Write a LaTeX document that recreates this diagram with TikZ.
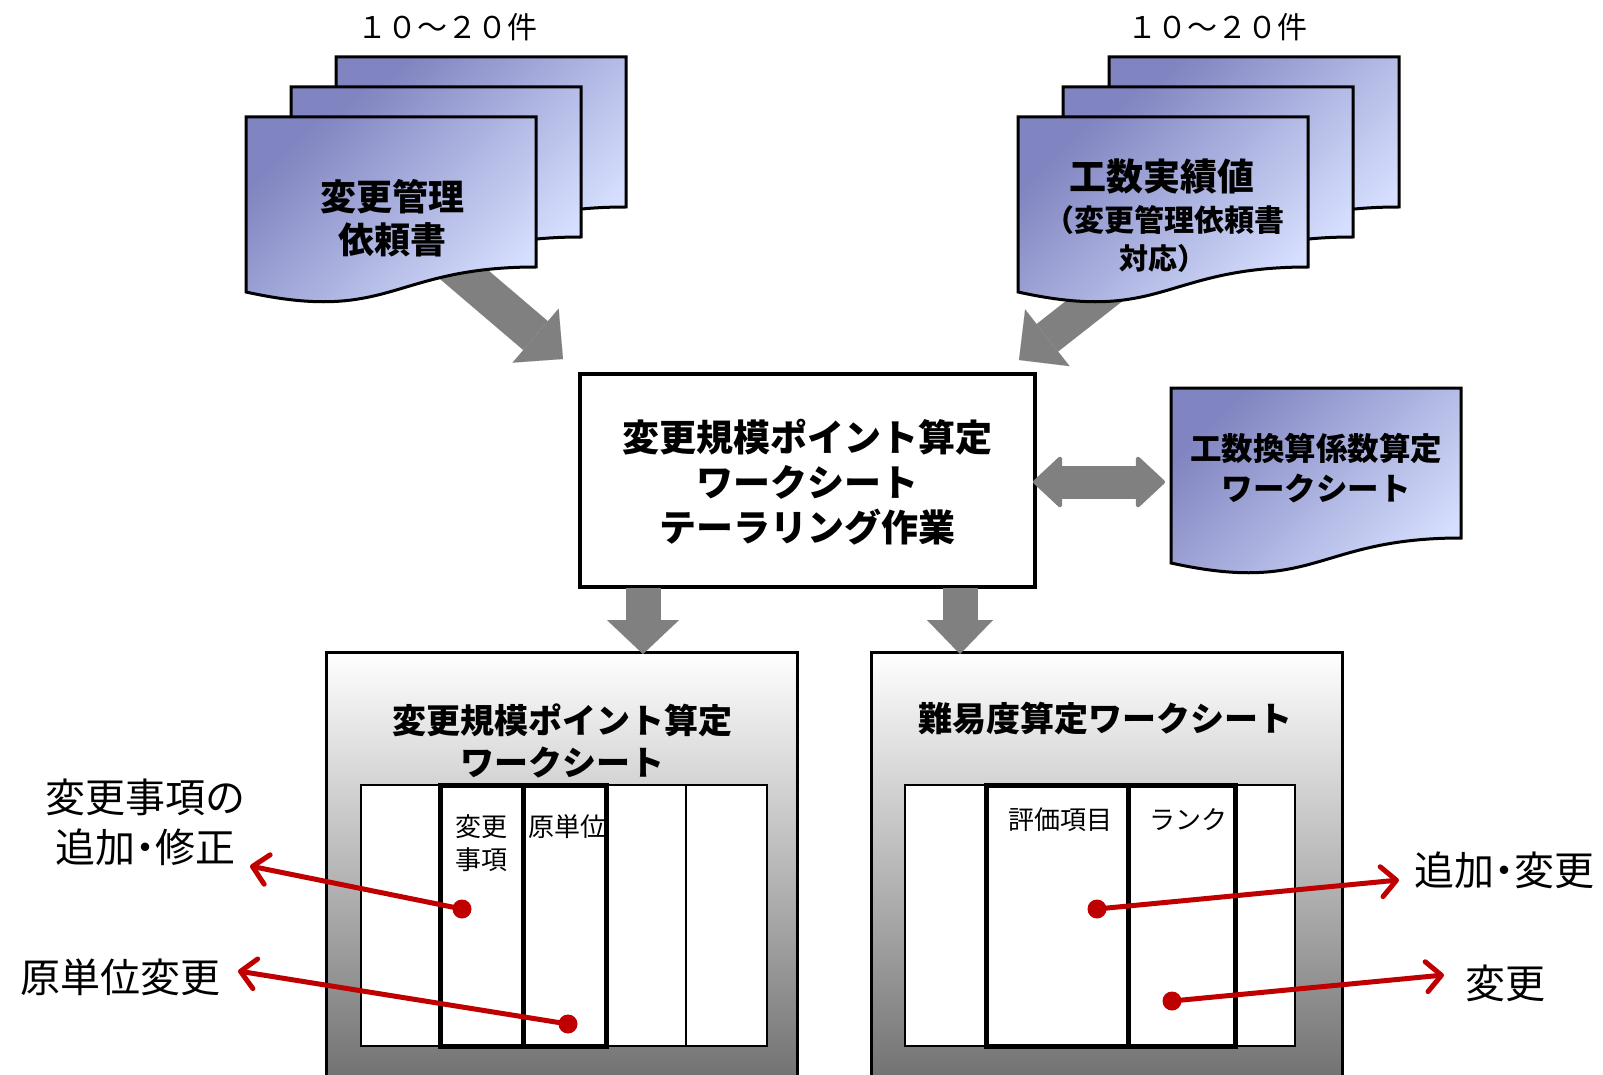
\documentclass[tikz,border=0pt]{standalone}
\usepackage{fontspec}
\setmainfont{Noto Sans CJK JP}
\usetikzlibrary{arrows.meta,calc}
\definecolor{docdark}{HTML}{8084C0}
\definecolor{docmid}{HTML}{C6CEF5}
\definecolor{doclight}{HTML}{D6DFFE}
\definecolor{redc}{HTML}{C00000}
\definecolor{grayc}{HTML}{808080}
\definecolor{boxbot}{HTML}{727272}
\definecolor{boxmid}{HTML}{C4C4C4}
\tikzset{
  docshape/.style={draw=black, line width=3pt, left color=docdark, middle color=docmid, right color=doclight, shading angle=45},
  fbig/.style={font=\fontsize{36}{43}\selectfont\bfseries, align=center, inner sep=0pt},
  fcnt/.style={font=\fontsize{30}{36}\selectfont, inner sep=0pt},
  ftitle/.style={font=\fontsize{34}{42}\selectfont\bfseries, align=center, inner sep=0pt},
  fcell/.style={font=\fontsize{26}{33}\selectfont, align=left, inner sep=0pt},
  flabel/.style={font=\fontsize{40}{50}\selectfont, align=center, inner sep=0pt},
  fplabel/.style={font=\fontsize{40}{50}\selectfont\addfontfeatures{RawFeature=+palt}, align=center, inner sep=0pt},
  grayarrow/.style={draw=grayc, line width=#1},
  reddot/.style={circle, fill=redc, minimum size=19pt, inner sep=0pt},
  redarrow/.style={draw=redc, line width=5pt, -{Straight Barb[length=15pt,width=30pt,round]}},
  outerbox/.style={draw=black, line width=3pt, top color=white, middle color=boxmid, bottom color=boxbot},
}
\newcommand\mydocpath[2]{\path[docshape, shift={(#1,#2)}] (0,0) -- (290,0) -- (290,150) .. controls (145,150) and (145,207) .. (0,175) -- cycle;}
\begin{document}
\begin{tikzpicture}[x=1pt,y=-1pt]
\useasboundingbox (0,0) rectangle (1603,1075);
\clip (0,0) rectangle (1603,1075);
\fill[white] (0,0) rectangle (1603,1075);

% gray arrows from documents (behind documents)
\coordinate (la0) at (434,249);
\coordinate (la1) at (563,359);
\coordinate (ra0) at (1153,255);
\coordinate (ra1) at (1019,360);
\draw[grayarrow=38pt, -{Triangle[length=36pt,width=71pt,line width=0.01pt]}] (la0) -- (la1);
\draw[grayarrow=35pt, -{Triangle[length=36pt,width=72pt,line width=0.01pt]}] (ra0) -- (ra1);

% left document stack
\mydocpath{336}{57}
\mydocpath{291}{87}
\mydocpath{246}{117}
\node[fbig] (ldoc) at (392,218) {変更管理\\依頼書};
\node[fcnt] (lcnt) at (447,27) {１０～２０件};

% right document stack
\mydocpath{1109}{57}
\mydocpath{1063}{87}
\mydocpath{1018}{117}
\node[font=\fontsize{37}{37}\selectfont\bfseries, inner sep=0pt] (rs1) at (1162,177) {工数実績値};
\node[font=\fontsize{30}{30}\selectfont\bfseries, inner sep=0pt] (rs2) at (1164,220) {（変更管理依頼書};
\node[font=\fontsize{29}{29}\selectfont\bfseries, inner sep=0pt] (rs3) at (1163,258) {対応）};
\node[fcnt] (rcnt) at (1217,27) {１０～２０件};

% conversion worksheet document
\mydocpath{1171}{388}
\node[font=\fontsize{31.5}{40}\selectfont\bfseries, align=center, inner sep=0pt] (cdoc) at (1316,468) {工数換算係数算定\\ワークシート};

% center box
\node[draw=black, line width=4pt, fill=white, minimum width=455pt, minimum height=213pt, inner sep=0pt] (cbox) at (807.5,480.5) {};
\node[font=\fontsize{37}{45}\selectfont\bfseries, align=center, inner sep=0pt] (ctext) at (807.5,482) {変更規模ポイント算定\\ワークシート\\テーラリング作業};

% double arrow
\coordinate (da0) at (1033,482);
\coordinate (da1) at (1165,482);
\draw[grayarrow=33pt, {Triangle[length=30pt,width=55pt,line width=4pt,round]}-{Triangle[length=30pt,width=55pt,line width=4pt,round]}] (da0) -- (da1);

% bottom boxes
\path[outerbox] (326,652) rectangle (797,1078);
\path[outerbox] (871,652) rectangle (1342,1078);

% down arrows
\coordinate (dl0) at (643,588);
\coordinate (dl1) at (643,654);
\coordinate (dr0) at (960,588);
\coordinate (dr1) at (960,654);
\draw[grayarrow=35pt, -{Triangle[length=34pt,width=72pt,line width=0.01pt]}] (dl0) -- (dl1);
\draw[grayarrow=35pt, -{Triangle[length=34pt,width=66pt,line width=0.01pt]}] (dr0) -- (dr1);

% left table
\node[ftitle] (lt) at (562,741) {変更規模ポイント算定\\ワークシート};
\draw[line width=2pt, fill=white] (361,785) rectangle (767,1046);
\draw[line width=2pt] (686,785) -- (686,1046);
\draw[line width=5pt] (440,785) rectangle (606,1046);
\draw[line width=5pt] (523,785) -- (523,1046);
\node[fcell, anchor=west] (c1) at (455,843) {変更\\事項};
\node[fcell, anchor=west] (c2) at (528,827) {原単位};

% right table
\node[ftitle] (rt) at (1105,719) {難易度算定ワークシート};
\draw[line width=2pt, fill=white] (905,785) rectangle (1295,1046);
\draw[line width=5pt] (986,785) rectangle (1235,1046);
\draw[line width=5pt] (1128,785) -- (1128,1046);
\node[fcell] (c3) at (1060,820) {評価項目};
\node[fcell] (c4) at (1188,820) {ランク};

% labels
\node[fplabel] (lab1) at (145,822) {変更事項の\\追加・修正};
\node[flabel] (lab2) at (120,977) {原単位変更};
\node[fplabel] (lab3) at (1504,870) {追加・変更};
\node[flabel] (lab4) at (1505,983) {変更};

% red connectors
\node[reddot] (d1) at (462,909) {};
\node[reddot] (d2) at (568,1024) {};
\node[reddot] (d3) at (1097,909) {};
\node[reddot] (d4) at (1172,1001) {};
\coordinate (t1) at (250,866);
\coordinate (t2) at (238,971);
\coordinate (t3) at (1399,880);
\coordinate (t4) at (1444,975);
\draw[redarrow] (d1.center) -- (t1);
\draw[redarrow] (d2.center) -- (t2);
\draw[redarrow] (d3.center) -- (t3);
\draw[redarrow] (d4.center) -- (t4);
\end{tikzpicture}
\end{document}
